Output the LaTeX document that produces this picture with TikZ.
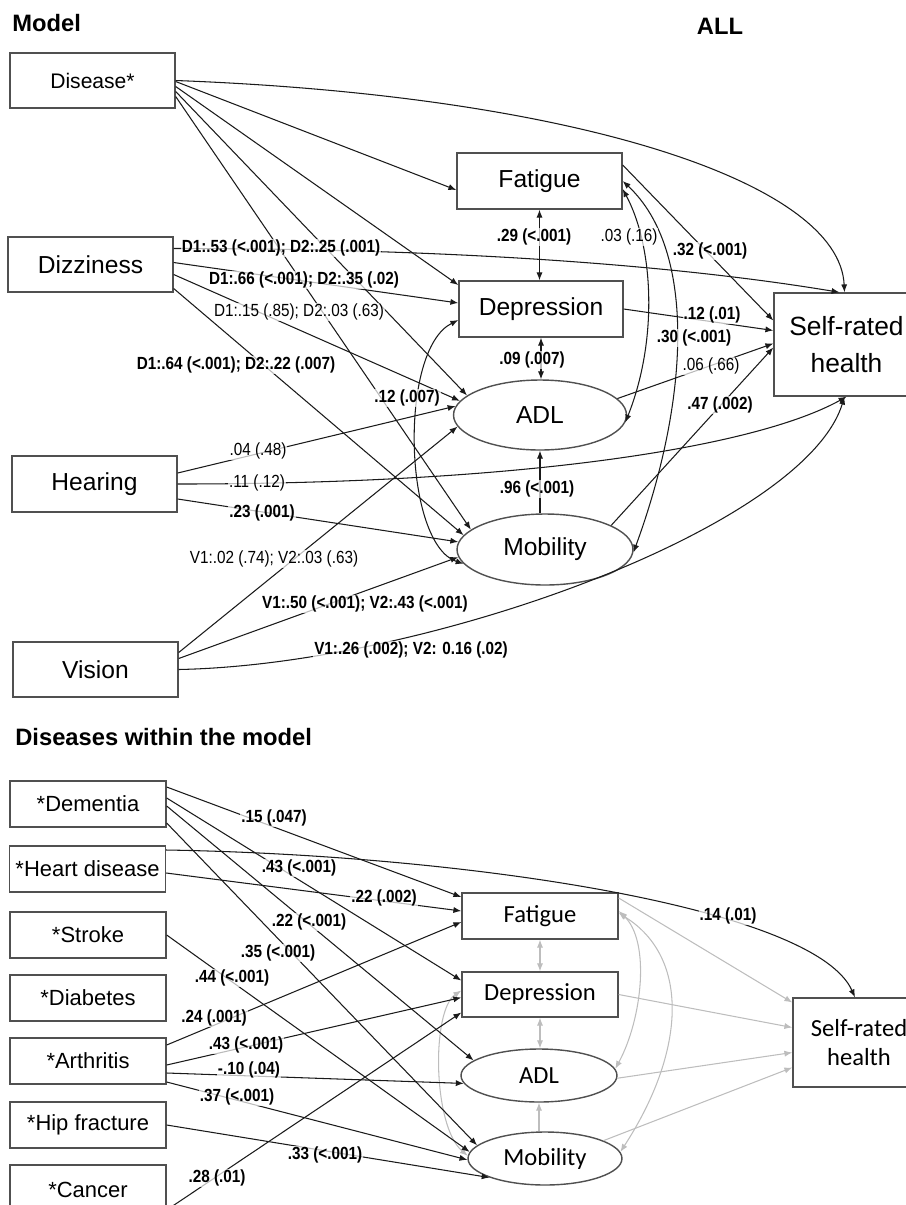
\documentclass[tikz,border=0pt]{standalone}
\usepackage{fontspec}
\setmainfont{Liberation Sans}
\newfontfamily\narrowfont[FakeStretch=0.87]{Liberation Sans}
\newfontfamily\califont{Carlito}
\usetikzlibrary{arrows.meta}
\usetikzlibrary{calc,shapes.geometric}
\definecolor{pline}{HTML}{1A1A1A}
\definecolor{pbox}{HTML}{505050}
\definecolor{pgray}{HTML}{BDBDBD}

\tikzset{
  >={Latex[length=4.5pt,width=3.5pt]},
  box/.style={draw=pbox, line width=0.8pt, rectangle, inner sep=0pt,
    minimum width=3.3cm, minimum height=1.1cm, font=\fontsize{14}{16}\selectfont},
  oval/.style={box, ellipse},
  sbox/.style={box, minimum width=3.12cm, minimum height=0.92cm, font=\fontsize{12.5}{15}\selectfont},
  cbox/.style={box, minimum width=3.12cm, minimum height=0.92cm, font=\califont\fontsize{14}{16.5}\selectfont},
  coval/.style={cbox, ellipse},
  arr/.style={draw=pline, line width=0.6pt, ->},
  dbl/.style={draw=pline, line width=0.6pt, <->},
  garr/.style={arr, draw=pgray},
  gdbl/.style={dbl, draw=pgray},
  lbl/.style={font=\narrowfont\bfseries\fontsize{10}{12}\selectfont, fill=white,
    fill opacity=0.7, text opacity=1, inner sep=0.5pt},
  nlbl/.style={lbl, font=\narrowfont\fontsize{10}{12}\selectfont},
  ttl/.style={font=\bfseries\fontsize{13.5}{16}\selectfont, inner sep=0pt}
}

\begin{document}
\begin{tikzpicture}[x=0.02cm, y=-0.02cm]
\useasboundingbox (0,0) rectangle (906,1205);

% Titles
\node[ttl, anchor=west] (tmod) at (12,23) {Model};
\node[ttl] (tall) at (720,26) {ALL};
\node[ttl, anchor=west] (tdis) at (15,737) {Diseases within the model};

% Model: predictors
\node[box, font=\fontsize{12}{14}\selectfont] (dis) at (92.5,80.5) {Disease*};
\node[box] (diz) at (90.5,264.5) {Dizziness};
\node[box, minimum height=1.12cm] (hear) at (94.5,484) {Hearing};
\node[box] (vis) at (95.5,669.5) {Vision};

% Model: mediators and outcome
\node[box, minimum height=1.12cm] (fat) at (539.5,181) {Fatigue};
\node[box, minimum width=3.28cm, minimum height=1.12cm] (dep) at (541,309) {Depression};
\node[oval, minimum width=3.46cm, minimum height=1.4cm] (adl) at (540,415) {ADL};
\node[oval, minimum width=3.52cm, minimum height=1.42cm] (mob) at (545,549.5) {Mobility};
\node[box, minimum width=2.9cm, minimum height=2.06cm, align=center,
  font=\fontsize{15}{21}\selectfont] (srh) at (846.5,344.5) {Self-rated\\health};

% Disease*
\draw[arr] (dis.east) .. controls +(400,15) and +(-5,-110) .. ($(srh.north)+(-2,0)$);
\draw[arr] ($(dis.east)+(0,1)$) -- ($(fat.west)+(0,9)$);
\draw[arr] ($(dis.east)+(0,6)$) -- ($(dep.west)+(0,-24)$);
\draw[arr] ($(dis.east)+(0,11)$) -- (adl.165);
\draw[arr] ($(dis.east)+(0,16)$) -- (mob.165);

% Dizziness
\draw[arr] ($(diz.east)+(0,-16)$) .. controls +(300,0) and +(-150,-25) .. ($(srh.north)+(-7,0)$);
\draw[arr] ($(diz.east)+(0,-2)$) -- ($(dep.west)+(0,-6)$);
\draw[arr] ($(diz.east)+(0,10)$) -- (adl.170);
\draw[arr] ($(diz.east)+(0,24)$) -- (mob.170);

% Hearing
\draw[arr] ($(hear.east)+(0,-11)$) -- (adl.174);
\draw[arr] (hear.east) .. controls +(350,0) and +(-90,50) .. ($(srh.south)+(0,0)$);
\draw[arr] ($(hear.east)+(0,15)$) -- (mob.175);

% Vision
\draw[arr] ($(vis.east)+(0,-17)$) -- (adl.188);
\draw[arr] ($(vis.east)+(0,-11)$) -- (mob.185);
\draw[arr] (vis.east) .. controls +(250,-5) and +(-40,130) .. ($(srh.south)+(-2,0)$);

% Between mediators
\draw[dbl] (fat.south) -- (fat.south |- dep.north);
\draw[dbl] (dep.south) -- (dep.south |- adl.north);
\draw[arr] (adl.south |- mob.north) -- (adl.south);
\draw[dbl] ($(fat.east)+(0,8)$) .. controls +(32,60) and +(32,-80) .. (adl.-5);
\draw[dbl] (fat.east) .. controls +(75,70) and +(55,-150) .. (mob.-2);
\draw[dbl] ($(dep.west)+(0,11)$) .. controls +(-60,30) and +(-60,-20) .. (mob.190);

% Mediators to self-rated health
\draw[arr] ($(fat.east)+(0,-16)$) -- ($(srh.west)+(0,-24)$);
\draw[arr] (dep.east) -- ($(srh.west)+(0,-14)$);
\draw[arr] (adl.12) -- ($(srh.west)+(0,-1)$);
\draw[arr] (mob.20) -- ($(srh.west)+(0,3)$);

% Diseases: predictors
\node[sbox] (dem) at (88,804) {*Dementia};
\node[sbox] (hrt) at (87.5,869) {*Heart disease};
\node[sbox] (str) at (88,935) {*Stroke};
\node[sbox] (dia) at (88,998) {*Diabetes};
\node[sbox] (art) at (88,1061) {*Arthritis};
\node[sbox] (hip) at (88,1125) {*Hip fracture};
\node[sbox, minimum height=1.0cm] (can) at (88,1190) {*Cancer};

% Diseases: mediators and outcome
\node[cbox] (fat2) at (540,916) {Fatigue};
\node[cbox, minimum height=0.9cm] (dep2) at (540,994.5) {Depression};
\node[coval, minimum height=1.06cm] (adl2) at (539,1075.5) {ADL};
\node[coval, minimum width=3.08cm, minimum height=1.06cm] (mob2) at (545,1158.5) {Mobility};
\node[cbox, minimum width=2.64cm, minimum height=1.78cm, align=center] (srh2) at (859,1042.5) {Self-rated\\health};

% Rest of the model (grey)
\draw[gdbl] (fat2.south) -- (fat2.south |- dep2.north);
\draw[gdbl] (dep2.south) -- (dep2.south |- adl2.north);
\draw[garr] (adl2.south |- mob2.north) -- (adl2.south);
\draw[garr] ($(fat2.east)+(0,-18)$) -- ($(srh2.west)+(0,-40)$);
\draw[garr] (dep2.east) -- ($(srh2.west)+(0,-15)$);
\draw[garr] (adl2.-2) -- ($(srh2.west)+(0,10)$);
\draw[garr] (mob2.17) -- ($(srh2.west)+(0,25)$);
\draw[gdbl] ($(fat2.east)+(0,-5)$) .. controls +(32,30) and +(27,-50) .. (adl2.5);
\draw[gdbl] ($(fat2.east)+(0,-3)$) .. controls +(72,45) and +(65,-100) .. (mob2.5);
\draw[gdbl] ($(dep2.west)+(0,-4)$) .. controls +(-30,20) and +(-35,-30) .. (mob2.178);

% Disease paths
\draw[arr] ($(dem.east)+(0,-17)$) -- ($(fat2.west)+(0,-19)$);
\draw[arr] ($(dem.east)+(0,-6)$) -- ($(dep2.west)+(0,-14)$);
\draw[arr] ($(dem.east)+(0,2)$) -- (adl2.167);
\draw[arr] ($(dem.east)+(0,19)$) -- (mob2.169);
\draw[arr] ($(hrt.east)+(0,-19)$) .. controls +(300,5) and +(-40,-90) .. ($(srh2.north)+(-4,0)$);
\draw[arr] ($(hrt.east)+(0,4)$) -- ($(fat2.west)+(0,-5)$);
\draw[arr] (str.east) -- (mob2.175);
\draw[arr] ($(art.east)+(0,-16)$) -- ($(fat2.west)+(0,6)$);
\draw[arr] ($(art.east)+(0,4)$) -- ($(dep2.west)+(0,3)$);
\draw[arr] ($(art.east)+(0,12)$) -- (adl2.186);
\draw[arr] ($(art.east)+(0,21)$) -- (mob2.181);
\draw[arr] (hip.east) -- (mob2.199);
\draw[arr] ($(can.east)+(0,20)$) -- ($(dep2.west)+(0,18)$);

% Labels, model
\node[lbl] (l1) at (281,248) {D1:.53 (<.001); D2:.25 (.001)};
\node[lbl] (l2) at (304,280) {D1:.66 (<.001); D2:.35 (.02)};
\node[nlbl] (l3) at (299,312) {D1:.15 (.85); D2:.03 (.63)};
\node[lbl] (l4) at (236,365) {D1:.64 (<.001); D2:.22 (.007)};
\node[lbl] (l5) at (407,398) {.12 (.007)};
\node[nlbl] (l6) at (258,451) {.04 (.48)};
\node[nlbl] (l7) at (257,483) {.11 (.12)};
\node[lbl] (l8) at (262,513) {.23 (.001)};
\node[nlbl] (l9) at (274,559) {V1:.02 (.74); V2:.03 (.63)};
\node[lbl] (l10) at (365,604) {V1:.50 (<.001); V2:.43 (<.001)};
\node[lbl] (l11) at (411,650) {V1:.26 (.002); V2: 0.16 (.02)};
\node[lbl] (l12) at (534,237) {.29 (<.001)};
\node[nlbl] (l13) at (629,237) {.03 (.16)};
\node[lbl] (l14) at (710,251) {.32 (<.001)};
\node[lbl] (l15) at (712,315) {.12 (.01)};
\node[lbl] (l16) at (694,338) {.30 (<.001)};
\node[nlbl] (l17) at (711,366) {.06 (.66)};
\node[lbl] (l18) at (532,360) {.09 (.007)};
\node[lbl] (l19) at (720,405) {.47 (.002)};
\node[lbl] (l20) at (537,489) {.96 (<.001)};

% Labels, diseases
\node[lbl] (m1) at (274,818) {.15 (.047)};
\node[lbl] (m2) at (299,868) {.43 (<.001)};
\node[lbl] (m3) at (384,898) {.22 (.002)};
\node[lbl] (m4) at (309,922) {.22 (<.001)};
\node[lbl] (m5) at (278,953) {.35 (<.001)};
\node[lbl] (m6) at (232,978) {.44 (<.001)};
\node[lbl] (m7) at (214,1018) {.24 (.001)};
\node[lbl] (m8) at (246,1045) {.43 (<.001)};
\node[lbl] (m9) at (249,1070) {-.10 (.04)};
\node[lbl] (m10) at (237,1097) {.37 (<.001)};
\node[lbl] (m11) at (325,1155) {.33 (<.001)};
\node[lbl] (m12) at (217,1178) {.28 (.01)};
\node[lbl] (m13) at (728,916) {.14 (.01)};
\end{tikzpicture}
\end{document}
